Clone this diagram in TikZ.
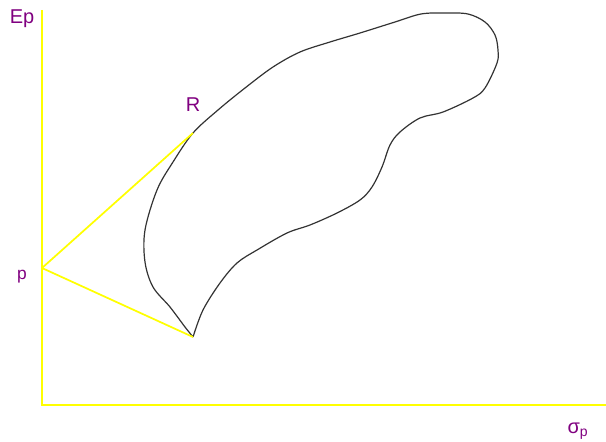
\documentclass[tikz,border=0pt]{standalone}
\usepackage{fontspec}
\setmainfont{Liberation Sans}
\usetikzlibrary{positioning}
\definecolor{axisyellow}{RGB}{255,255,0}
\definecolor{labelpurple}{RGB}{128,0,128}
\begin{document}
\begin{tikzpicture}[
    x=0.75pt, y=-0.75pt,
    axis/.style={draw=axisyellow, line width=1.5pt},
    tangent/.style={draw=axisyellow, line width=1.3pt},
    region/.style={draw=black!80, line width=0.9pt},
    lbl/.style={text=labelpurple, font=\fontsize{15}{16}\selectfont, inner sep=0pt}
]
\useasboundingbox (0,0) rectangle (606,442);
% axes
\coordinate (top) at (42,10);
\coordinate (origin) at (42,405);
\coordinate (right) at (606,405);
\draw[axis] (top) -- (origin) -- (right);
% points
\coordinate (p) at (42,268);
\coordinate (r) at (193,133);
\coordinate (tip) at (193,337);
% feasible region
\draw[region] plot[smooth, tension=0.55] coordinates {
    (193,337) (185,327) (170,307) (153,287) (145,262) (145,230) (157,190)
    (173,162) (193,133) (218,110) (245,88) (273,67) (300,52) (330,42)
    (360,33) (395,22) (421,14) (445,13) (468,14) (485,22) (495,35)
    (498,50) (497,63) (485,88) (473,98) (443,112) (420,118) (400,132)
    (390,145) (382,167) (372,187) (360,200) (337,213) (310,225) (287,233)
    (257,250) (237,263) (220,283) (203,310) (193,337)};
% tangent lines
\draw[tangent] (p) -- (r);
\draw[tangent] (p) -- (tip);
% labels
\node[lbl] (ep) at (22,19) {Ep};
\node[lbl] (rlbl) at (193,105) {R};
\node[lbl, font=\fontsize{13}{14}\selectfont] (plbl) at (22,277) {p};
\node[lbl] (sigma) at (578,431) {σ\textsubscript{p}};
\end{tikzpicture}
\end{document}
